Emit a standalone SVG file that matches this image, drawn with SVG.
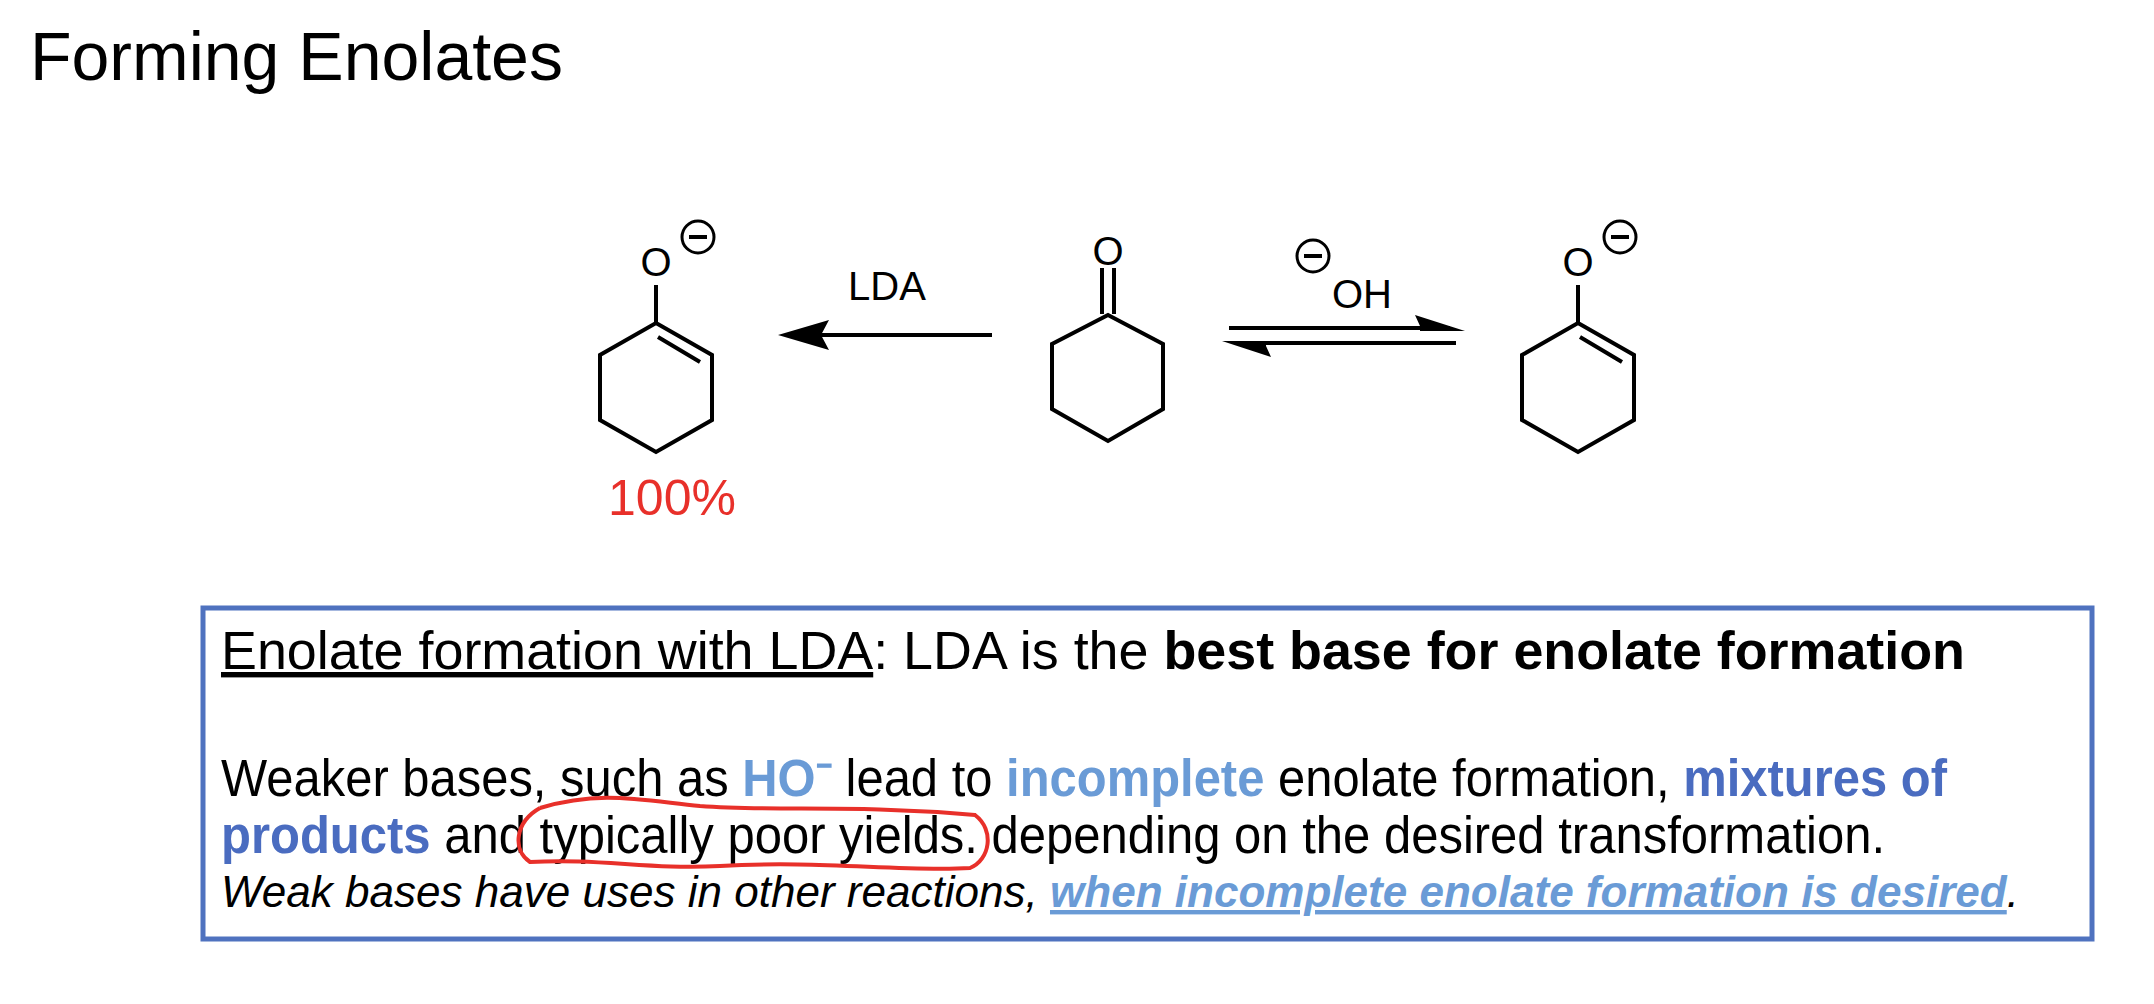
<svg xmlns="http://www.w3.org/2000/svg" width="2154" height="1004" viewBox="0 0 2154 1004">
<style>
text{font-family:"Liberation Sans",Arial,sans-serif;fill:#000}
.b{fill:none;stroke:#000;stroke-width:4;stroke-linejoin:miter}
.lb{fill:#6a9bd6}
.db{fill:#4a6cc0}
.m{font-size:51px}
.c{fill:none;stroke:#000;stroke-width:3}
</style>
<rect width="2154" height="1004" fill="#fff"/>
<text x="30" y="80" font-size="68">Forming Enolates</text>
<g id="enolate-left">
<path class="b" d="M656,323 L712,355 L712,420 L656,452 L600,420 L600,355 Z M656,285 L656,323 M658,337 L700,362"/>
<text x="656" y="276" font-size="40" text-anchor="middle">O</text>
<circle class="c" cx="698" cy="237" r="16"/><line x1="689" y1="237" x2="707" y2="237" stroke="#000" stroke-width="4"/>
<text x="672" y="515" font-size="50" style="fill:#e8302a" text-anchor="middle">100%</text>
</g>
<g id="ketone">
<path class="b" d="M1108,315 L1163,344 L1163,409 L1108,441 L1052,409 L1052,344 Z M1102,268 L1102,314 M1114,268 L1114,314"/>
<text x="1108" y="265" font-size="40" text-anchor="middle">O</text>
</g>
<g id="enolate-right">
<path class="b" d="M1578,323 L1634,355 L1634,420 L1578,452 L1522,420 L1522,355 Z M1578,285 L1578,323 M1580,337 L1622,362"/>
<text x="1578" y="276" font-size="40" text-anchor="middle">O</text>
<circle class="c" cx="1620" cy="237" r="16"/><line x1="1611" y1="237" x2="1629" y2="237" stroke="#000" stroke-width="4"/>
</g>
<g id="connectors">
<line x1="992" y1="335" x2="815" y2="335" stroke="#000" stroke-width="4"/>
<path d="M778,335 L829,320 L821,335 L829,350 Z" fill="#000"/>
<text x="887" y="300" font-size="40" text-anchor="middle">LDA</text>
<line x1="1229" y1="328" x2="1450" y2="328" stroke="#000" stroke-width="4"/>
<path d="M1465,331 L1415,315 L1420,326 L1420,331 Z" fill="#000"/>
<line x1="1456" y1="343" x2="1236" y2="343" stroke="#000" stroke-width="4"/>
<path d="M1222,341 L1271,357 L1266,346 L1266,341 Z" fill="#000"/>
<text x="1362" y="308" font-size="40" text-anchor="middle">OH</text>
<circle class="c" cx="1313" cy="256" r="16"/><line x1="1304" y1="256" x2="1322" y2="256" stroke="#000" stroke-width="4"/>
</g>
<g id="infobox">
<rect x="203" y="608" width="1889" height="331" fill="none" stroke="#4f72bf" stroke-width="5"/>
<text x="221" y="669" font-size="54" textLength="1744" lengthAdjust="spacingAndGlyphs"><tspan text-decoration="underline">Enolate formation with LDA</tspan>: LDA is the <tspan font-weight="bold">best base for enolate formation</tspan></text>
<text x="221" y="796" class="m" textLength="1726" lengthAdjust="spacingAndGlyphs">Weaker bases, such as <tspan class="lb" font-weight="bold">HO⁻</tspan> lead to <tspan class="lb" font-weight="bold">incomplete</tspan> enolate formation, <tspan class="db" font-weight="bold">mixtures of</tspan></text>
<text x="221" y="853" class="m" textLength="1664" lengthAdjust="spacingAndGlyphs"><tspan class="db" font-weight="bold">products</tspan> and typically poor yields. depending on the desired transformation.</text>
<text x="221" y="907" font-size="44" font-style="italic" textLength="1798" lengthAdjust="spacingAndGlyphs">Weak bases have uses in other reactions, <tspan class="lb" font-weight="bold" text-decoration="underline">when incomplete enolate formation is desired</tspan>.</text>
<path d="M540,808 C600,790 640,800 700,806 C780,812 850,804 975,815 C995,830 990,860 970,868 C900,872 820,860 720,866 C650,870 600,858 530,862 C512,850 515,822 540,808" fill="none" stroke="#e8302a" stroke-width="4"/>
</g>
</svg>
